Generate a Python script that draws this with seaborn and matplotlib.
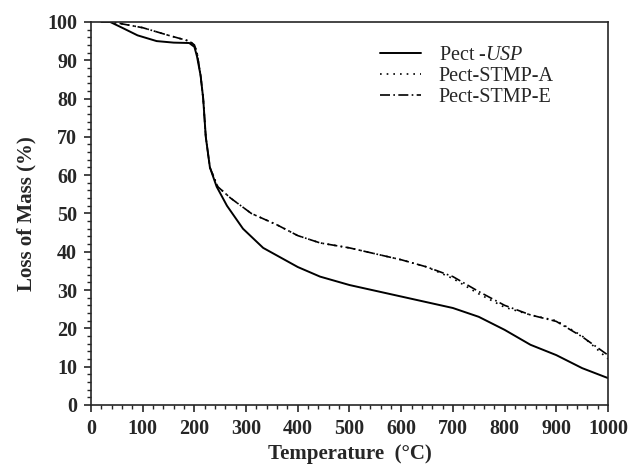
import pandas as pd
import seaborn as sns
import matplotlib.pyplot as plt
from matplotlib.ticker import MultipleLocator

# Values
temp_usp = [20, 37, 60, 90, 127, 160, 190, 200, 205, 212, 217, 222, 230, 243, 263, 294, 333,
            400, 443, 500, 600, 700, 750, 800, 850, 900, 950, 1000]
mass_usp = [100, 100, 98.5, 96.5, 95, 94.6, 94.5, 93.5, 91, 86, 80, 70, 62, 57, 52, 46, 41,
            36, 33.5, 31.3, 28.3, 25.3, 23, 19.6, 15.7, 13, 9.6, 7]

temp_a = [20, 40, 100, 150, 190, 200, 205, 212, 217, 222, 230, 245, 270, 310, 360, 400, 443,
          500, 600, 650, 700, 750, 800, 850, 900, 950, 1000]
mass_a = [100, 100, 98.5, 96.5, 95, 94, 92, 86, 80, 70, 62, 57, 54, 50, 47, 44.2, 42.3,
          41, 37.9, 36, 33, 29, 25.5, 23.5, 22, 18, 12]

temp_e = [20, 40, 100, 150, 190, 200, 205, 212, 217, 222, 230, 245, 270, 310, 360, 400, 443,
          500, 600, 650, 700, 750, 800, 850, 900, 950, 1000]
mass_e = [100, 100, 98.5, 96.5, 95, 94, 92, 86, 80, 70, 62, 57, 54, 50, 47, 44.2, 42.3,
          41, 37.9, 36, 33.5, 29.6, 26, 23.5, 21.8, 17.8, 13]

sns.set_style("ticks")
plt.rcParams['font.family'] = ['Liberation Serif', 'DejaVu Serif']
plt.rcParams['mathtext.fontset'] = 'custom'
plt.rcParams['mathtext.rm'] = 'Liberation Serif'
plt.rcParams['mathtext.it'] = 'Liberation Serif:italic'

fig = plt.figure(figsize=(6.32, 4.67), dpi=100)
ax = fig.add_axes([0.144, 0.133, 0.818, 0.820])

sns.lineplot(x=temp_usp, y=mass_usp, ax=ax, color='black', lw=1.4, label='Pect -$\\it{USP}$')
sns.lineplot(x=temp_a, y=mass_a, ax=ax, color='black', lw=1.2, ls=(0, (1, 3)), label='Pect-STMP-A')
sns.lineplot(x=temp_e, y=mass_e, ax=ax, color='black', lw=1.2, ls=(0, (6, 2, 1, 2)), label='Pect-STMP-E')

ax.set_xlim(0, 1000)
ax.set_ylim(0, 100)
ax.xaxis.set_major_locator(MultipleLocator(100))
ax.xaxis.set_minor_locator(MultipleLocator(20))
ax.yaxis.set_major_locator(MultipleLocator(10))
ax.yaxis.set_minor_locator(MultipleLocator(2))
ax.tick_params(which='major', length=5, width=1.2, direction='out', labelsize=14.5, pad=5)
ax.tick_params(which='minor', length=3, width=1, direction='out')
for lab in ax.get_xticklabels() + ax.get_yticklabels():
    lab.set_fontweight('bold')
for sp in ax.spines.values():
    sp.set_linewidth(1.2)

ax.set_xlabel("Temperature  (°C)", fontsize=15, fontweight='bold', labelpad=4)
ax.set_ylabel("Loss of Mass (%)", fontsize=15, fontweight='bold', labelpad=8)

ax.legend(loc='upper right', bbox_to_anchor=(0.93, 0.985), frameon=False, fontsize=14.5,
          handlelength=2.0, labelspacing=0.1, handletextpad=0.9)

plt.savefig("out.png", dpi=100)
